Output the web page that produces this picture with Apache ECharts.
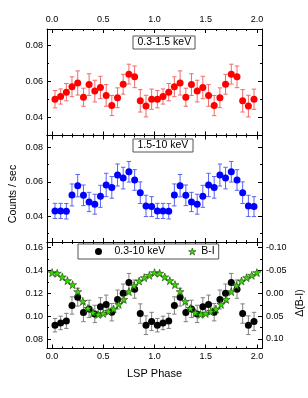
<!DOCTYPE html>
<html><head><meta charset="utf-8">
<script src="https://cdn.jsdelivr.net/npm/echarts@6/dist/echarts.min.js"></script>
<style>html,body{margin:0;padding:0;background:#fff}#c{width:308px;height:398px}</style>
</head><body><div id="c"></div>
<script>
// ---- data ----
const phase = [0.028,0.083,0.139,0.194,0.250,0.306,0.361,0.417,0.472,0.528,0.583,0.639,0.694,0.750,0.806,0.861,0.917,0.972,
               1.028,1.083,1.139,1.194,1.250,1.306,1.361,1.417,1.472,1.528,1.583,1.639,1.694,1.750,1.806,1.861,1.917,1.972];
const soft = [0.0501,0.0516,0.0540,0.0570,0.0591,0.0512,0.0582,0.0546,0.0566,0.0522,0.0466,0.0509,0.0584,0.0640,0.0625,0.0492,0.0463,0.0501,
              0.0501,0.0516,0.0540,0.0570,0.0591,0.0512,0.0582,0.0546,0.0566,0.0522,0.0466,0.0509,0.0584,0.0640,0.0625,0.0492,0.0463,0.0501];
const softErr = [0.0048,0.0042,0.0048,0.0055,0.0067,0.0050,0.0060,0.0060,0.0062,0.0060,0.0056,0.0055,0.0055,0.0055,0.0060,0.0062,0.0060,0.0056,
                 0.0048,0.0042,0.0048,0.0055,0.0067,0.0050,0.0060,0.0060,0.0062,0.0060,0.0056,0.0055,0.0055,0.0055,0.0060,0.0062,0.0060,0.0056];
const hard = [0.0431,0.0431,0.0429,0.0524,0.0578,0.0522,0.0483,0.0470,0.0516,0.0582,0.0568,0.0640,0.0622,0.0659,0.0611,0.0537,0.0460,0.0456,
              0.0431,0.0431,0.0429,0.0524,0.0578,0.0522,0.0483,0.0470,0.0516,0.0582,0.0568,0.0640,0.0622,0.0659,0.0611,0.0537,0.0460,0.0456];
const hardErr = [0.0044,0.0044,0.0045,0.0064,0.0065,0.0060,0.0056,0.0058,0.0064,0.0068,0.0063,0.0064,0.0063,0.0060,0.0060,0.0063,0.0062,0.0058,
                 0.0044,0.0044,0.0045,0.0064,0.0065,0.0060,0.0056,0.0058,0.0064,0.0068,0.0063,0.0064,0.0063,0.0060,0.0060,0.0063,0.0062,0.0058];
const total = [0.0921,0.0941,0.0959,0.1094,0.1167,0.1032,0.1064,0.1020,0.1082,0.1102,0.1035,0.1146,0.1202,0.1295,0.1237,0.1023,0.0921,0.0954,
               0.0921,0.0941,0.0959,0.1094,0.1167,0.1032,0.1064,0.1020,0.1082,0.1102,0.1035,0.1146,0.1202,0.1295,0.1237,0.1023,0.0921,0.0954];
const totalErr = [0.0059,0.0059,0.0066,0.0076,0.0078,0.0080,0.0076,0.0076,0.0080,0.0083,0.0076,0.0083,0.0080,0.0080,0.0080,0.0085,0.0082,0.0080,
                  0.0059,0.0059,0.0066,0.0076,0.0078,0.0080,0.0076,0.0076,0.0080,0.0083,0.0076,0.0083,0.0080,0.0080,0.0080,0.0085,0.0082,0.0080];
const starPhase = [0.00,0.05,0.10,0.15,0.20,0.25,0.30,0.35,0.40,0.45,0.50,0.55,0.60,0.65,0.70,0.75,0.80,0.85,0.90,0.95,
                   1.00,1.05,1.10,1.15,1.20,1.25,1.30,1.35,1.40,1.45,1.50,1.55,1.60,1.65,1.70,1.75,1.80,1.85,1.90,1.95,2.00];
const bi = [-0.0454,-0.0440,-0.0359,-0.0278,-0.0190,-0.0037,0.0176,0.0330,0.0425,0.0461,0.0440,0.0395,0.0344,0.0242,0.0132,-0.0037,-0.0168,-0.0270,-0.0344,-0.0395,
            -0.0454,-0.0440,-0.0359,-0.0278,-0.0190,-0.0037,0.0176,0.0330,0.0425,0.0461,0.0440,0.0395,0.0344,0.0242,0.0132,-0.0037,-0.0168,-0.0270,-0.0344,-0.0395,
            -0.0454];
const xTicks = [0,0.5,1.0,1.5,2.0];
const xMinor = [0.1,0.2,0.3,0.4,0.6,0.7,0.8,0.9,1.1,1.2,1.3,1.4,1.6,1.7,1.8,1.9];
const yTicks = [[0.04,0.06,0.08],[0.04,0.06,0.08],[0.08,0.10,0.12,0.14,0.16]];
const yMinor = [[0.05,0.07],[0.03,0.05,0.07],[0.09,0.11,0.13,0.15]];
const biTicks = [-0.10,-0.05,0.00,0.05,0.10];
const biMinor = [-0.075,-0.025,0.025,0.075];

// ---- layout ----
const FONT = 'Liberation Sans, Arial, sans-serif';
const gridTops = [29,135.5,242];
const GH = 106.5;
const yRange = [[0.03,0.089],[0.025,0.087],[0.0717,0.165]];
const biRange = [-0.1125,0.1208];

const lab = (show, vals, fmt, margin) => ({show, customValues: vals, formatter: fmt, margin, fontSize: 9, fontFamily: FONT, color: '#000'});
function xAx(g, pos, vals, len, showLab, line) {
  return {type:'value', gridIndex:g, min:-0.05, max:2.05, position:pos,
    axisLine:{show:line, onZero:false, lineStyle:{color:'#000', width:1}},
    axisTick:{show:true, inside:true, length:len, customValues:vals, lineStyle:{color:'#000', width:1}},
    axisLabel: lab(showLab, vals, v => v.toFixed(1), pos === 'top' ? 5 : 4),
    splitLine:{show:false}};
}
function yAx(g, pos, range, vals, len, showLab, line, inverse) {
  return {type:'value', gridIndex:g, min:range[0], max:range[1], position:pos, inverse: !!inverse,
    axisLine:{show:line, onZero:false, lineStyle:{color:'#000', width:1}},
    axisTick:{show:true, inside:true, length:len, customValues:vals, lineStyle:{color:'#000', width:1}},
    axisLabel: lab(showLab, vals, v => v.toFixed(2), 4),
    splitLine:{show:false}};
}
const xAxis = [], yAxis = [], grid = [];
for (let g = 0; g < 3; g++) {
  grid.push({left:47, right:46, top:gridTops[g], height:GH, containLabel:false});
  xAxis.push(xAx(g,'bottom',xTicks,4,g===2,true), xAx(g,'bottom',xMinor,2,false,false),
             xAx(g,'top',xTicks,4,g===0,true), xAx(g,'top',xMinor,2,false,false));
  yAxis.push(yAx(g,'left',yRange[g],yTicks[g],4,true,true), yAx(g,'left',yRange[g],yMinor[g],2,false,false));
  if (g < 2) {
    yAxis.push(yAx(g,'right',yRange[g],yTicks[g],4,false,true), yAx(g,'right',yRange[g],yMinor[g],2,false,false));
  } else {
    yAxis.push(yAx(g,'right',biRange,biTicks,4,true,true,true), yAx(g,'right',biRange,biMinor,2,false,false,true));
  }
}
xAxis[8].name = 'LSP Phase';
xAxis[8].nameLocation = 'middle';
xAxis[8].nameGap = 20;
xAxis[8].nameTextStyle = {fontFamily: FONT, fontSize: 11, color: '#000'};

function errRender(color) {
  return function (params, api) {
    const x = api.value(0);
    const a = api.coord([x, api.value(1)]);
    const b = api.coord([x, api.value(2)]);
    const w = 2.2, st = {stroke: color, lineWidth: 1};
    return {type:'group', children:[
      {type:'line', shape:{x1:a[0], y1:a[1], x2:b[0], y2:b[1]}, style:st},
      {type:'line', shape:{x1:a[0]-w, y1:a[1], x2:a[0]+w, y2:a[1]}, style:st},
      {type:'line', shape:{x1:b[0]-w, y1:b[1], x2:b[0]+w, y2:b[1]}, style:st}]};
  };
}
function errSeries(name, vals, errs, idx, color) {
  return {type:'custom', name, xAxisIndex:idx, yAxisIndex:idx, renderItem: errRender(color), silent:true,
    encode:{x:0, y:[1,2]}, data: phase.map((p,i) => [p, vals[i]-errs[i], vals[i]+errs[i]]), z:2};
}
function dots(name, vals, idx, color) {
  return {type:'scatter', name, xAxisIndex:idx, yAxisIndex:idx, symbol:'circle', symbolSize:7,
    itemStyle:{color, opacity:1}, data: phase.map((p,i) => [p, vals[i]]), z:3};
}
const STAR = 'path://M50,0 L61.8,35.4 L99,35.4 L69,57.3 L80.4,92.7 L50,70.8 L19.6,92.7 L31,57.3 L1,35.4 L38.2,35.4 Z';

const option = {
  animation:false,
  backgroundColor:'#fff',
  grid, xAxis, yAxis,
  title: [
    {text:'0.3-1.5 keV', left:133, top:36, padding:[0.5,4.5], borderColor:'#555', borderWidth:1, backgroundColor:'#fff',
     textStyle:{fontFamily:FONT, fontSize:10.5, fontWeight:'normal', color:'#000', lineHeight:12}},
    {text:'1.5-10 keV', left:133, top:139, padding:[0.5,4.5], borderColor:'#555', borderWidth:1, backgroundColor:'#fff',
     textStyle:{fontFamily:FONT, fontSize:10.5, fontWeight:'normal', color:'#000', lineHeight:12}}
  ],
  legend: {left:78, top:244, orient:'horizontal',
    data:[{name:'0.3-10 keV', icon:'circle'}, {name:'B-I', icon:STAR, itemStyle:{color:'#33dd00', borderColor:'#1a3a00', borderWidth:0.6}}],
    itemWidth:8, itemHeight:7, itemGap:23,
    padding:[2,4,2,17], borderColor:'#555', borderWidth:1, backgroundColor:'#fff', borderRadius:0,
    formatter: n => n === 'B-I' ? n : '{a|' + n + '}',
    textStyle:{fontFamily:FONT, fontSize:10.5, color:'#000', rich:{a:{padding:[0,0,0,7], fontFamily:FONT, fontSize:10.5, color:'#000'}}}},
  graphic: [
    {type:'text', x:13, y:194, rotation:Math.PI/2, style:{text:'Counts / sec', font:'10.5px Liberation Sans', fill:'#000', align:'center', verticalAlign:'middle'}},
    {type:'text', x:300, y:303, rotation:Math.PI/2, style:{text:'Δ(B-I)', font:'10.5px Liberation Sans', fill:'#000', align:'center', verticalAlign:'middle'}}
  ],
  series: [
    errSeries('soft err', soft, softErr, 0, '#f26a6a'),
    dots('0.3-1.5 keV', soft, 0, '#ff0000'),
    errSeries('hard err', hard, hardErr, 4, '#5a64f0'),
    dots('1.5-10 keV', hard, 4, '#0000ff'),
    errSeries('total err', total, totalErr, 8, '#808080'),
    dots('0.3-10 keV', total, 8, '#000000'),
    {type:'scatter', name:'B-I', xAxisIndex:8, yAxisIndex:10, symbol:STAR, symbolSize:8,
     itemStyle:{color:'#33dd00', borderColor:'#1a3a00', borderWidth:0.6, opacity:1},
     data: starPhase.map((p,i) => [p, bi[i]]), z:4}
  ]
};
const chart = echarts.init(document.getElementById('c'), null, {renderer:'canvas'});
chart.setOption(option);
</script></body></html>
